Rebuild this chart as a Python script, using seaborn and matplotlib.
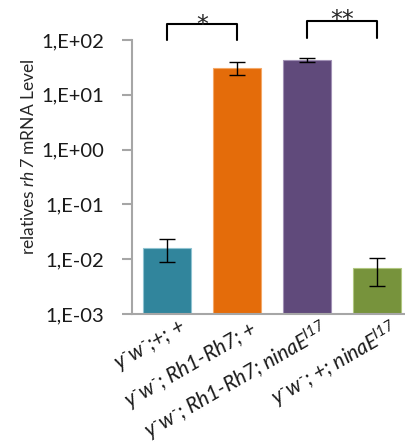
import matplotlib
matplotlib.use("Agg")
import matplotlib.pyplot as plt
import seaborn as sns
import numpy as np
import pandas as pd
from matplotlib.ticker import FixedLocator, FixedFormatter, NullLocator
from matplotlib.transforms import ScaledTranslation

# ---- data ----
genotypes = [
    r"$y^{\text{-}}w^{\text{-}}$;+; +",
    r"$y^{\text{-}}w^{\text{-}}$; Rh1-Rh7; +",
    r"$y^{\text{-}}w^{\text{-}}$; Rh1-Rh7; ninaE$^{\mathit{I17}}$",
    r"$y^{\text{-}}w^{\text{-}}$; +; ninaE$^{\mathit{I17}}$",
]
levels = [0.016, 31.0, 43.0, 0.0068]
err_low = [0.0089, 23.0, 39.0, 0.0032]
err_high = [0.0234, 39.0, 47.0, 0.0104]
bar_colors = ["#31859C", "#E46C0A", "#604A7B", "#77933C"]
edge_colors = ["#8fc3d1", "#f4a867", "#a191b5", "#b0c780"]
ytick_values = [1e-3, 1e-2, 1e-1, 1e0, 1e1, 1e2]
ytick_labels = ["1,E-03", "1,E-02", "1,E-01", "1,E+00", "1,E+01", "1,E+02"]
sig_pairs = [(0, 1), (2, 3)]
sig_labels = ["*", "**"]

sns.set_theme(style="white")
plt.rcParams["font.family"] = ["Lato", "DejaVu Sans"]
plt.rcParams["mathtext.fontset"] = "custom"
plt.rcParams["mathtext.it"] = "Lato:italic"
plt.rcParams["mathtext.rm"] = "Lato:italic"
plt.rcParams["mathtext.default"] = "it"

df = pd.DataFrame({"genotype": genotypes, "level": levels})

fig = plt.figure(figsize=(4.06, 4.48), dpi=100)
ax = fig.add_axes([132 / 406, 1 - 314 / 448, 1 - 132 / 406, (314 - 40) / 448])

sns.barplot(data=df, x="genotype", y="level", hue="genotype", palette=bar_colors,
            legend=False, ax=ax, width=0.69, errorbar=None, saturation=1)
for patch, ec in zip(ax.patches, edge_colors):
    patch.set_edgecolor(ec)
    patch.set_linewidth(0.8)

ax.set_yscale("log")
ax.set_ylim(1e-3, 1e2)
ax.set_xlim(-0.5, 3.42)

x = np.arange(len(levels))
lv = np.array(levels)
yerr = [lv - np.array(err_low), np.array(err_high) - lv]
ax.errorbar(x, lv, yerr=yerr, fmt="none", ecolor="black", elinewidth=1.0,
            capsize=5.5, capthick=1.0, zorder=5)

ax.yaxis.set_major_locator(FixedLocator(ytick_values))
ax.yaxis.set_major_formatter(FixedFormatter(ytick_labels))
ax.yaxis.set_minor_locator(NullLocator())

for s in ["top", "right"]:
    ax.spines[s].set_visible(False)
for s in ["left", "bottom"]:
    ax.spines[s].set_color("#a6a6a6")
    ax.spines[s].set_linewidth(1.5)

ax.tick_params(axis="y", which="major", direction="out", length=7, width=1.5,
               color="#a6a6a6", labelsize=14.5, pad=13, left=True,
               labelcolor="#1a1a1a")
ax.tick_params(axis="x", length=0, pad=4)
ax.set_xlabel("")
ax.set_ylabel(r"relatives $\mathit{rh\,7}$ mRNA Level", fontsize=12.5,
              color="#262626")
ax.yaxis.set_label_coords(-0.345, 0.572)

ax.set_xticks(x)
ax.set_xticklabels(genotypes, rotation=30, ha="right", rotation_mode="anchor",
                   fontsize=15, fontstyle="italic", color="#1a1a1a")
for lbl in ax.get_xticklabels():
    lbl.set_transform(lbl.get_transform() + ScaledTranslation(0.13, 0.02, fig.dpi_scale_trans))

# significance brackets
tops = [196, 222]
bots = [99, 109]
star_tops = [310, 384]
for (a, b), lab, t, bt, st in zip(sig_pairs, sig_labels, tops, bots, star_tops):
    ax.plot([a, a, b, b], [bt, t, t, bt], color="black", lw=1.5, clip_on=False)
    ax.text((a + b) / 2, st, lab, ha="center", va="top", fontsize=17,
            family="DejaVu Sans", clip_on=False)

fig.savefig("out.png", dpi=100)
